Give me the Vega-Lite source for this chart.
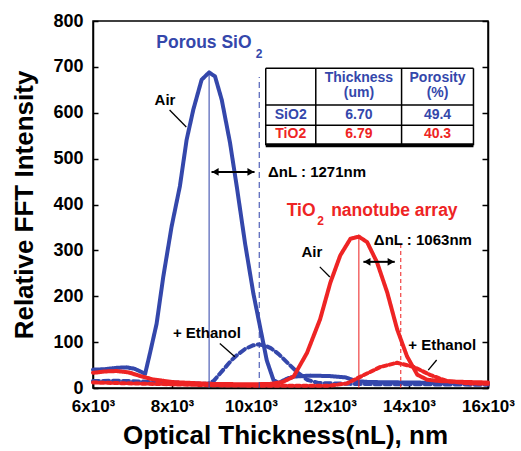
{
  "$schema": "https://vega.github.io/schema/vega-lite/v6.json",
  "width": 395,
  "height": 367,
  "autosize": "none",
  "padding": {"left": 93, "top": 21, "right": 33, "bottom": 63},
  "background": "white",
  "config": {
    "font": "Liberation Sans",
    "view": {"stroke": "black", "strokeWidth": 1.5},
    "axis": {"grid": false, "domainColor": "black", "domainWidth": 1.5, "tickColor": "black", "tickWidth": 1.5, "labelColor": "black", "titleColor": "black", "labelFontWeight": "bold", "titleFontWeight": "bold"}
  },
  "datasets": {
    "curves": [
      {"s": "SiO2 Air", "x": 6000, "y": 40}, {"s": "SiO2 Air", "x": 6300, "y": 41}, {"s": "SiO2 Air", "x": 6600, "y": 44}, {"s": "SiO2 Air", "x": 6850, "y": 45}, {"s": "SiO2 Air", "x": 7050, "y": 42}, {"s": "SiO2 Air", "x": 7200, "y": 36}, {"s": "SiO2 Air", "x": 7320, "y": 31}, {"s": "SiO2 Air", "x": 7440, "y": 75}, {"s": "SiO2 Air", "x": 7610, "y": 140}, {"s": "SiO2 Air", "x": 7780, "y": 243}, {"s": "SiO2 Air", "x": 7990, "y": 352}, {"s": "SiO2 Air", "x": 8200, "y": 440}, {"s": "SiO2 Air", "x": 8370, "y": 541}, {"s": "SiO2 Air", "x": 8540, "y": 607}, {"s": "SiO2 Air", "x": 8750, "y": 672}, {"s": "SiO2 Air", "x": 8940, "y": 688}, {"s": "SiO2 Air", "x": 9090, "y": 679}, {"s": "SiO2 Air", "x": 9260, "y": 628}, {"s": "SiO2 Air", "x": 9470, "y": 534}, {"s": "SiO2 Air", "x": 9640, "y": 439}, {"s": "SiO2 Air", "x": 9850, "y": 315}, {"s": "SiO2 Air", "x": 10060, "y": 206}, {"s": "SiO2 Air", "x": 10230, "y": 133}, {"s": "SiO2 Air", "x": 10400, "y": 60}, {"s": "SiO2 Air", "x": 10570, "y": 17}, {"s": "SiO2 Air", "x": 10700, "y": 11}, {"s": "SiO2 Air", "x": 10900, "y": 20}, {"s": "SiO2 Air", "x": 11100, "y": 25}, {"s": "SiO2 Air", "x": 11500, "y": 27}, {"s": "SiO2 Air", "x": 12000, "y": 26}, {"s": "SiO2 Air", "x": 12400, "y": 23}, {"s": "SiO2 Air", "x": 12650, "y": 15}, {"s": "SiO2 Air", "x": 13000, "y": 13}, {"s": "SiO2 Air", "x": 14000, "y": 12}, {"s": "SiO2 Air", "x": 15000, "y": 11}, {"s": "SiO2 Air", "x": 16000, "y": 11},
      {"s": "SiO2 Ethanol", "x": 6000, "y": 15}, {"s": "SiO2 Ethanol", "x": 6500, "y": 16}, {"s": "SiO2 Ethanol", "x": 7000, "y": 15}, {"s": "SiO2 Ethanol", "x": 7500, "y": 13}, {"s": "SiO2 Ethanol", "x": 8000, "y": 12}, {"s": "SiO2 Ethanol", "x": 8500, "y": 10}, {"s": "SiO2 Ethanol", "x": 8900, "y": 9}, {"s": "SiO2 Ethanol", "x": 9050, "y": 15}, {"s": "SiO2 Ethanol", "x": 9200, "y": 30}, {"s": "SiO2 Ethanol", "x": 9350, "y": 45}, {"s": "SiO2 Ethanol", "x": 9500, "y": 60}, {"s": "SiO2 Ethanol", "x": 9650, "y": 72}, {"s": "SiO2 Ethanol", "x": 9850, "y": 85}, {"s": "SiO2 Ethanol", "x": 10050, "y": 93}, {"s": "SiO2 Ethanol", "x": 10200, "y": 95}, {"s": "SiO2 Ethanol", "x": 10350, "y": 93}, {"s": "SiO2 Ethanol", "x": 10500, "y": 87}, {"s": "SiO2 Ethanol", "x": 10700, "y": 74}, {"s": "SiO2 Ethanol", "x": 10900, "y": 57}, {"s": "SiO2 Ethanol", "x": 11150, "y": 36}, {"s": "SiO2 Ethanol", "x": 11420, "y": 18}, {"s": "SiO2 Ethanol", "x": 11700, "y": 11}, {"s": "SiO2 Ethanol", "x": 12500, "y": 9}, {"s": "SiO2 Ethanol", "x": 13500, "y": 8}, {"s": "SiO2 Ethanol", "x": 14500, "y": 8}, {"s": "SiO2 Ethanol", "x": 16000, "y": 7},
      {"s": "TiO2 Air", "x": 6000, "y": 33}, {"s": "TiO2 Air", "x": 6300, "y": 36}, {"s": "TiO2 Air", "x": 6600, "y": 37}, {"s": "TiO2 Air", "x": 6900, "y": 34}, {"s": "TiO2 Air", "x": 7200, "y": 26}, {"s": "TiO2 Air", "x": 7500, "y": 19}, {"s": "TiO2 Air", "x": 8000, "y": 13}, {"s": "TiO2 Air", "x": 9000, "y": 9}, {"s": "TiO2 Air", "x": 10000, "y": 8}, {"s": "TiO2 Air", "x": 10500, "y": 9}, {"s": "TiO2 Air", "x": 10800, "y": 13}, {"s": "TiO2 Air", "x": 11080, "y": 25}, {"s": "TiO2 Air", "x": 11420, "y": 77}, {"s": "TiO2 Air", "x": 11750, "y": 150}, {"s": "TiO2 Air", "x": 12010, "y": 230}, {"s": "TiO2 Air", "x": 12260, "y": 289}, {"s": "TiO2 Air", "x": 12515, "y": 325}, {"s": "TiO2 Air", "x": 12730, "y": 330}, {"s": "TiO2 Air", "x": 12940, "y": 318}, {"s": "TiO2 Air", "x": 13190, "y": 274}, {"s": "TiO2 Air", "x": 13450, "y": 208}, {"s": "TiO2 Air", "x": 13700, "y": 128}, {"s": "TiO2 Air", "x": 13950, "y": 69}, {"s": "TiO2 Air", "x": 14210, "y": 29}, {"s": "TiO2 Air", "x": 14460, "y": 18}, {"s": "TiO2 Air", "x": 14800, "y": 15}, {"s": "TiO2 Air", "x": 15500, "y": 13}, {"s": "TiO2 Air", "x": 16000, "y": 12},
      {"s": "TiO2 Ethanol", "x": 6000, "y": 12}, {"s": "TiO2 Ethanol", "x": 7000, "y": 10}, {"s": "TiO2 Ethanol", "x": 8000, "y": 8}, {"s": "TiO2 Ethanol", "x": 9000, "y": 6}, {"s": "TiO2 Ethanol", "x": 10000, "y": 5}, {"s": "TiO2 Ethanol", "x": 11000, "y": 5}, {"s": "TiO2 Ethanol", "x": 12000, "y": 5}, {"s": "TiO2 Ethanol", "x": 12430, "y": 10}, {"s": "TiO2 Ethanol", "x": 12850, "y": 28}, {"s": "TiO2 Ethanol", "x": 13280, "y": 46}, {"s": "TiO2 Ethanol", "x": 13700, "y": 55}, {"s": "TiO2 Ethanol", "x": 14120, "y": 46}, {"s": "TiO2 Ethanol", "x": 14550, "y": 28}, {"s": "TiO2 Ethanol", "x": 14970, "y": 15}, {"s": "TiO2 Ethanol", "x": 15500, "y": 10}, {"s": "TiO2 Ethanol", "x": 16000, "y": 9}
    ],
    "vlines": [
      {"s": "SiO2 Air", "x": 8940, "y": 0, "y2": 688},
      {"s": "SiO2 Ethanol", "x": 10210, "y": 0, "y2": 678},
      {"s": "TiO2 Air", "x": 12730, "y": 0, "y2": 330},
      {"s": "TiO2 Ethanol", "x": 13790, "y": 0, "y2": 312}
    ],
    "arrows": [
      {"x": 9000, "x2": 10090, "y": 471},
      {"x": 12845, "x2": 13640, "y": 275}
    ],
    "heads": [
      {"x": 9096, "y": 471, "dir": "left"}, {"x": 9995, "y": 471, "dir": "right"},
      {"x": 12939, "y": 275, "dir": "left"}, {"x": 13543, "y": 275, "dir": "right"}
    ],
    "leaders": [
      {"x": 7939, "y": 606, "x2": 8362, "y2": 569},
      {"x": 9211, "y": 97, "x2": 9591, "y2": 68},
      {"x": 11742, "y": 264, "x2": 11996, "y2": 242},
      {"x": 14700, "y": 61, "x2": 14487, "y2": 39}
    ],
    "labels": [
      {"t": "Air", "x": 7559, "y": 627},
      {"t": "Air", "x": 11277, "y": 297},
      {"t": "+ Ethanol", "x": 8023, "y": 119},
      {"t": "+ Ethanol", "x": 13980, "y": 94},
      {"t": "ΔnL : 1271nm", "x": 10431, "y": 471},
      {"t": "ΔnL : 1063nm", "x": 13110, "y": 322}
    ],
    "titles": [
      {"t": "Porous SiO", "x": 7602, "y": 752, "g": "SiO2"},
      {"t": "TiO", "x": 10905, "y": 385, "g": "TiO2"},
      {"t": "nanotube array", "x": 12030, "y": 385, "g": "TiO2"}
    ],
    "subs": [
      {"t": "2", "x": 10119, "y": 729, "g": "SiO2"},
      {"t": "2", "x": 11680, "y": 364, "g": "TiO2"}
    ],
    "tablebox": [{"x": 10373, "x2": 15632, "y": 529, "y2": 697}],
    "tablelines": [
      {"x": 10373, "x2": 15632, "y": 697, "y2": 697},
      {"x": 10373, "x2": 15632, "y": 617, "y2": 617},
      {"x": 10373, "x2": 15632, "y": 573, "y2": 573},
      {"x": 10373, "x2": 10373, "y": 529, "y2": 697},
      {"x": 11640, "x2": 11640, "y": 529, "y2": 697},
      {"x": 13812, "x2": 13812, "y": 529, "y2": 697},
      {"x": 15632, "x2": 15632, "y": 529, "y2": 697}
    ],
    "tablethick": [{"x": 10373, "x2": 15632, "y": 529, "y2": 529}],
    "tabletext": [
      {"t": "Thickness", "x": 12731, "y": 676, "g": "head"},
      {"t": "(um)", "x": 12731, "y": 643, "g": "head"},
      {"t": "Porosity", "x": 14722, "y": 676, "g": "head"},
      {"t": "(%)", "x": 14722, "y": 643, "g": "head"},
      {"t": "SiO2", "x": 11006, "y": 595, "g": "SiO2"},
      {"t": "6.70", "x": 12731, "y": 595, "g": "SiO2"},
      {"t": "49.4", "x": 14722, "y": 595, "g": "SiO2"},
      {"t": "TiO2", "x": 11006, "y": 553, "g": "TiO2"},
      {"t": "6.79", "x": 12731, "y": 553, "g": "TiO2"},
      {"t": "40.3", "x": 14722, "y": 553, "g": "TiO2"}
    ]
  },
  "resolve": {"axis": {"y": "independent", "x": "independent"}},
  "layer": [
    {
      "data": {"name": "curves"},
      "mark": {"type": "line", "strokeJoin": "round", "strokeCap": "round"},
      "encoding": {
        "x": {"field": "x", "type": "quantitative", "scale": {"domain": [6000, 16000], "nice": false},
          "axis": {"values": [6000, 8000, 10000, 12000, 14000, 16000], "labelExpr": "(datum.value/1000) + 'x10³'", "labelFontSize": 17, "tickSize": -5, "labelPadding": 15, "labelFlush": false, "title": "Optical Thickness(nL), nm", "titleFontSize": 26, "titlePadding": 8, "titleX": 192}},
        "y": {"field": "y", "type": "quantitative", "scale": {"domain": [0, 800], "nice": false},
          "axis": {"values": [0, 100, 200, 300, 400, 500, 600, 700, 800], "labelFontSize": 18, "tickSize": -5, "labelPadding": 15, "labelFlush": false, "title": "Relative FFT Intensity", "titleFontSize": 26, "titlePadding": 15}},
        "color": {"field": "s", "type": "nominal", "scale": {"domain": ["SiO2 Air", "SiO2 Ethanol", "TiO2 Air", "TiO2 Ethanol"], "range": ["#3447ab", "#3447ab", "#ee2424", "#ee2424"]}, "legend": null},
        "strokeDash": {"field": "s", "type": "nominal", "scale": {"domain": ["SiO2 Air", "SiO2 Ethanol", "TiO2 Air", "TiO2 Ethanol"], "range": [[1, 0], [6, 4], [1, 0], [4, 3]]}, "legend": null},
        "strokeWidth": {"field": "s", "type": "ordinal", "scale": {"domain": ["SiO2 Air", "SiO2 Ethanol", "TiO2 Air", "TiO2 Ethanol"], "range": [4, 4, 4, 2]}, "legend": null}
      }
    },
    {
      "data": {"name": "vlines"},
      "mark": {"type": "rule", "strokeWidth": 1.3, "opacity": 0.8},
      "encoding": {
        "x": {"field": "x", "type": "quantitative", "axis": null},
        "y": {"field": "y", "type": "quantitative", "axis": {"orient": "right", "values": [0, 100, 200, 300, 400, 500, 600, 700, 800], "labels": false, "tickSize": -6, "title": null}},
        "y2": {"field": "y2"},
        "color": {"field": "s", "type": "nominal", "legend": null},
        "strokeDash": {"field": "s", "type": "nominal", "legend": null}
      }
    },
    {
      "data": {"name": "tablebox"},
      "mark": {"type": "rect", "fill": "white"},
      "encoding": {
        "x": {"field": "x", "type": "quantitative", "axis": null},
        "x2": {"field": "x2"},
        "y": {"field": "y", "type": "quantitative", "axis": null},
        "y2": {"field": "y2"}
      }
    },
    {
      "data": {"name": "tablelines"},
      "mark": {"type": "rule", "color": "black", "strokeWidth": 1.5},
      "encoding": {
        "x": {"field": "x", "type": "quantitative", "axis": null},
        "x2": {"field": "x2"},
        "y": {"field": "y", "type": "quantitative", "axis": null},
        "y2": {"field": "y2"}
      }
    },
    {
      "data": {"name": "tablethick"},
      "mark": {"type": "rule", "color": "black", "strokeWidth": 4},
      "encoding": {
        "x": {"field": "x", "type": "quantitative", "axis": null},
        "x2": {"field": "x2"},
        "y": {"field": "y", "type": "quantitative", "axis": null}
      }
    },
    {
      "data": {"name": "tabletext"},
      "mark": {"type": "text", "fontSize": 14, "fontWeight": "bold", "align": "center", "baseline": "middle"},
      "encoding": {
        "x": {"field": "x", "type": "quantitative", "axis": null},
        "y": {"field": "y", "type": "quantitative", "axis": null},
        "text": {"field": "t"},
        "color": {"field": "g", "type": "nominal", "scale": {"domain": ["SiO2 Air", "SiO2 Ethanol", "TiO2 Air", "TiO2 Ethanol", "head", "SiO2", "TiO2"], "range": ["#3447ab", "#3447ab", "#ee2424", "#ee2424", "black", "#3447ab", "#ee2424"]}, "legend": null}
      }
    },
    {
      "data": {"name": "arrows"},
      "mark": {"type": "rule", "color": "black", "strokeWidth": 2},
      "encoding": {
        "x": {"field": "x", "type": "quantitative", "axis": null},
        "x2": {"field": "x2"},
        "y": {"field": "y", "type": "quantitative", "axis": null}
      }
    },
    {
      "data": {"name": "heads"},
      "mark": {"type": "point", "filled": true, "color": "black", "size": 60, "opacity": 1},
      "encoding": {
        "x": {"field": "x", "type": "quantitative", "axis": null},
        "y": {"field": "y", "type": "quantitative", "axis": null},
        "shape": {"field": "dir", "type": "nominal", "scale": {"domain": ["left", "right"], "range": ["triangle-left", "triangle-right"]}, "legend": null}
      }
    },
    {
      "data": {"name": "leaders"},
      "mark": {"type": "rule", "color": "black", "strokeWidth": 1.3},
      "encoding": {
        "x": {"field": "x", "type": "quantitative", "axis": null},
        "x2": {"field": "x2"},
        "y": {"field": "y", "type": "quantitative", "axis": null},
        "y2": {"field": "y2"}
      }
    },
    {
      "data": {"name": "labels"},
      "mark": {"type": "text", "fontSize": 15, "fontWeight": "bold", "align": "left", "baseline": "middle", "color": "black"},
      "encoding": {
        "x": {"field": "x", "type": "quantitative", "axis": null},
        "y": {"field": "y", "type": "quantitative", "axis": null},
        "text": {"field": "t"}
      }
    },
    {
      "data": {"name": "titles"},
      "mark": {"type": "text", "fontSize": 17.5, "fontWeight": "bold", "align": "left", "baseline": "middle"},
      "encoding": {
        "x": {"field": "x", "type": "quantitative", "axis": null},
        "y": {"field": "y", "type": "quantitative", "axis": null},
        "text": {"field": "t"},
        "color": {"field": "g", "type": "nominal", "legend": null}
      }
    },
    {
      "data": {"name": "subs"},
      "mark": {"type": "text", "fontSize": 12, "fontWeight": "bold", "align": "left", "baseline": "middle"},
      "encoding": {
        "x": {"field": "x", "type": "quantitative", "axis": null},
        "y": {"field": "y", "type": "quantitative", "axis": null},
        "text": {"field": "t"},
        "color": {"field": "g", "type": "nominal", "legend": null}
      }
    }
  ]
}
